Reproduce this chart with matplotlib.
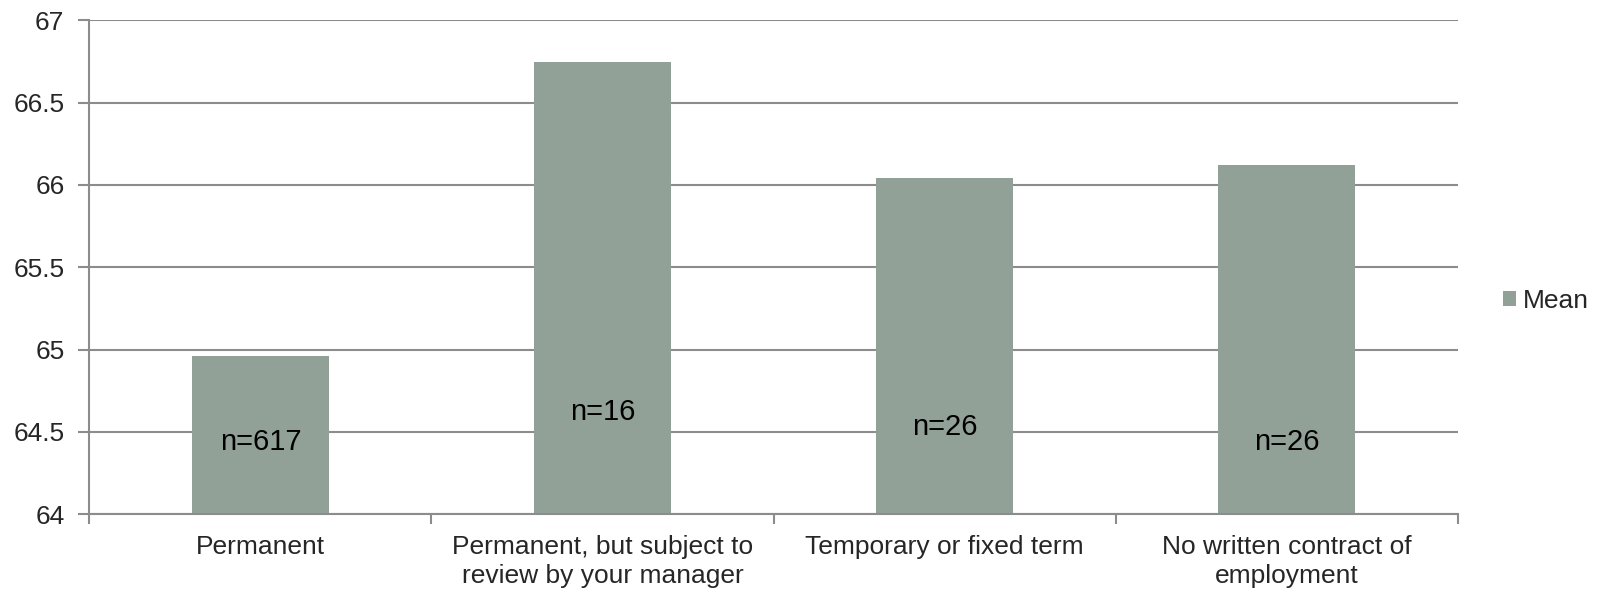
import matplotlib.pyplot as plt
import numpy as np

plt.rcParams['font.family'] = ['Liberation Sans', 'DejaVu Sans']

categories = ['Permanent', 'Permanent, but subject to\nreview by your manager',
              'Temporary or fixed term', 'No written contract of\nemployment']
means = [64.96, 66.75, 66.04, 66.12]
n_labels = ['n=617', 'n=16', 'n=26', 'n=26']
n_label_y = [64.44, 64.62, 64.53, 64.44]

bar_color = '#92a197'
grid_color = '#8c8c8c'
text_color = '#262626'

fig = plt.figure(figsize=(15.97, 5.93), dpi=100)
ax = fig.add_axes([0.056, 0.133, 0.8567, 0.8326])

x = np.arange(len(categories))
ax.bar(x, np.array(means) - 64, bottom=64, width=0.4, color=bar_color, label='Mean', zorder=2)

for xi, lab, yl in zip(x, n_labels, n_label_y):
    ax.text(xi, yl, lab, ha='center', va='center', fontsize=21, color='black', zorder=3)

ax.set_xlim(-0.5, len(categories) - 0.5)
ax.set_ylim(64, 67)
ax.set_yticks(np.arange(64, 67.01, 0.5))
ax.set_yticklabels(['64', '64.5', '65', '65.5', '66', '66.5', '67'])
ax.yaxis.grid(True, color=grid_color, linewidth=1.5, zorder=0)
ax.set_axisbelow(True)

ax.set_xticks(x)
ax.set_xticklabels(categories, linespacing=1.27)
ax.set_xticks(np.arange(-0.5, len(categories), 1.0), minor=True)
ax.tick_params(axis='x', which='major', length=0, pad=15, labelsize=19, colors=text_color)
ax.tick_params(axis='x', which='minor', length=7, width=1.5, color=grid_color)
ax.tick_params(axis='y', length=8, width=1.5, color=grid_color, labelsize=19,
               labelcolor=text_color, pad=10)

for s in ['top', 'right']:
    ax.spines[s].set_visible(False)
for s in ['left', 'bottom']:
    ax.spines[s].set_color(grid_color)
    ax.spines[s].set_linewidth(1.5)

leg = ax.legend(loc='center left', bbox_to_anchor=(0.941, 0.493), bbox_transform=fig.transFigure,
                frameon=False, fontsize=19, handlelength=0.5, handleheight=0.5,
                handletextpad=0.25, borderaxespad=0, borderpad=0)
for t in leg.get_texts():
    t.set_color(text_color)

fig.savefig('out.png', dpi=100)
